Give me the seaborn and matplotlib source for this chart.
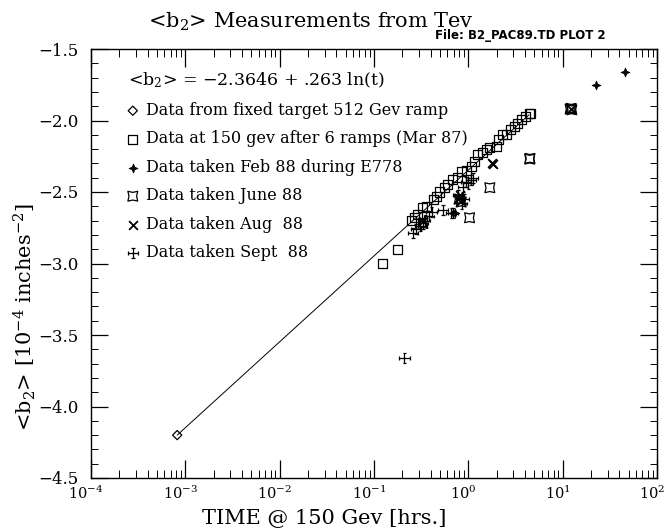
import matplotlib
matplotlib.use("Agg")
import matplotlib.pyplot as plt
import matplotlib.ticker as mtick
from matplotlib.path import Path
from matplotlib.transforms import Affine2D, ScaledTranslation
import numpy as np
import seaborn as sns

# ---- data ----
# fit line end points  <b2> = -2.3646 + .263 ln(t)
fit_t = [8.2e-4, 4.4]
fit_b = [-4.20, -1.96]

# fixed target 512 Gev ramp
fixed_t = [8.2e-4]
fixed_b = [-4.20]

# 150 gev after 6 ramps (Mar 87)
mar87_t = [0.124, 0.179, 0.249, 0.27, 0.29, 0.33, 0.36, 0.43, 0.46, 0.50, 0.56,
           0.60, 0.68, 0.76, 0.845, 0.95, 1.08, 1.17, 1.26, 1.43, 1.55, 1.66,
           1.99, 2.1, 2.3, 2.54, 2.8, 3.1, 3.36, 3.7, 4.0, 4.4, 4.6]
mar87_b = [-3.00, -2.90, -2.70, -2.68, -2.66, -2.61, -2.60, -2.55, -2.53, -2.50, -2.47,
           -2.45, -2.41, -2.40, -2.36, -2.35, -2.32, -2.29, -2.24, -2.225, -2.20, -2.19,
           -2.18, -2.13, -2.10, -2.10, -2.06, -2.04, -2.02, -1.99, -1.97, -1.95, -1.95]

# Feb 88 during E778
feb88_t = [46.1, 22.7, 0.69, 0.72]
feb88_b = [-1.66, -1.75, -2.65, -2.65]

# June 88
jun88_t = [12.0, 12.3, 12.5, 4.47, 4.5, 1.69, 1.03, 0.80, 0.84, 0.33]
jun88_b = [-1.92, -1.915, -1.925, -2.27, -2.265, -2.47, -2.68, -2.55, -2.57, -2.72]

# Aug 88
aug88_t = [1.78, 1.82, 0.80, 0.84, 0.78, 0.82, 0.33, 12.2]
aug88_b = [-2.30, -2.305, -2.54, -2.56, -2.55, -2.52, -2.70, -1.92]

# Sept 88
sep88_t = [0.21, 0.258, 0.28, 0.31, 0.33, 0.35, 0.38, 0.407, 0.54, 0.66, 0.69,
           0.78, 0.85, 0.88, 0.90, 0.95, 1.0, 1.07, 1.12]
sep88_b = [-3.66, -2.787, -2.76, -2.74, -2.72, -2.70, -2.67, -2.638, -2.626, -2.645, -2.649,
           -2.52, -2.58, -2.463, -2.55, -2.43, -2.44, -2.416, -2.40]

x_decades = [1e-4, 1e-3, 1e-2, 1e-1, 1e0, 1e1, 1e2]
y_ticks = [-4.5, -4.0, -3.5, -3.0, -2.5, -2.0, -1.5]

# ---- markers ----
def seg_path(segs):
    verts, codes = [], []
    for (a, b) in segs:
        verts += [a, b]
        codes += [Path.MOVETO, Path.LINETO]
    return Path(verts, codes)

sept_marker = seg_path([((0, -1), (0, 1)), ((-1, 0), (1, 0)),
                        ((-0.35, 1), (0.35, 1)), ((-0.35, -1), (0.35, -1)),
                        ((-1, -0.35), (-1, 0.35)), ((1, -0.35), (1, 0.35))])
june_marker = Path.unit_regular_star(4, 0.55).transformed(Affine2D().rotate_deg(45))
feb_marker = Path.unit_regular_star(4, 0.4)

sns.set_style("ticks", {"xtick.direction": "in", "ytick.direction": "in",
                        "xtick.top": True, "ytick.right": True,
                        "xtick.color": "k", "ytick.color": "k",
                        "axes.edgecolor": "k", "text.color": "k",
                        "axes.labelcolor": "k"})
plt.rcParams['font.family'] = ['DejaVu Serif']
plt.rcParams['mathtext.fontset'] = 'dejavuserif'
plt.rcParams['xtick.major.size'] = 13
plt.rcParams['ytick.major.size'] = 12
plt.rcParams['xtick.minor.size'] = 6
plt.rcParams['ytick.minor.size'] = 5
plt.rcParams['xtick.major.width'] = 0.9
plt.rcParams['ytick.major.width'] = 0.9
plt.rcParams['xtick.minor.width'] = 0.7
plt.rcParams['ytick.minor.width'] = 0.7
plt.rcParams['xtick.minor.visible'] = True
plt.rcParams['ytick.minor.visible'] = True

fig = plt.figure(figsize=(6.66, 5.31), dpi=100)
ax = fig.add_axes([91 / 666, 1 - 478 / 531, 566 / 666, 429 / 531])

sns.lineplot(x=fit_t, y=fit_b, ax=ax, color='k', lw=0.7, legend=False)

sns.scatterplot(x=fixed_t, y=fixed_b, ax=ax, marker='D', s=22, facecolor='none',
                edgecolor='k', linewidth=0.9, label='Data from fixed target 512 Gev ramp')
sns.scatterplot(x=mar87_t, y=mar87_b, ax=ax, marker='s', s=42, facecolor='none',
                edgecolor='k', linewidth=0.9, label='Data at 150 gev after 6 ramps (Mar 87)')
sns.scatterplot(x=feb88_t, y=feb88_b, ax=ax, marker=feb_marker, s=40, color='k',
                edgecolor='k', linewidth=0.6, label='Data taken Feb 88 during E778')
sns.scatterplot(x=jun88_t, y=jun88_b, ax=ax, marker=june_marker, s=50, facecolor='none',
                edgecolor='k', linewidth=0.9, label='Data taken June 88')
sns.scatterplot(x=aug88_t, y=aug88_b, ax=ax, marker='x', s=40, color='k',
                linewidth=1.3, label='Data taken Aug  88')
sns.scatterplot(x=sep88_t, y=sep88_b, ax=ax, marker=sept_marker, s=55, facecolor='none',
                edgecolor='k', linewidth=0.9, label='Data taken Sept  88')

ax.set_xscale('log')
ax.set_xlim(1e-4, 1e2)
ax.set_ylim(-4.5, -1.5)
ax.xaxis.set_major_locator(mtick.FixedLocator(x_decades))
ax.xaxis.set_major_formatter(mtick.LogFormatterSciNotation())
ax.xaxis.set_minor_locator(mtick.LogLocator(base=10, subs=np.arange(2, 10), numticks=20))
ax.xaxis.set_minor_formatter(mtick.NullFormatter())
ax.yaxis.set_major_locator(mtick.FixedLocator(y_ticks))
ax.yaxis.set_minor_locator(mtick.MultipleLocator(0.1))
ax.yaxis.set_major_formatter(mtick.FuncFormatter(lambda v, p: '\u2212%.1f' % abs(v)))
ax.tick_params(which='both', direction='in', top=True, right=True, bottom=True, left=True)
ax.tick_params(axis='y', which='major', pad=9, labelsize=12)
ax.tick_params(axis='x', which='major', pad=5, labelsize=10.5)
for sp in ax.spines.values():
    sp.set_linewidth(1.0)
    sp.set_color('k')
    sp.set_visible(True)

# decade labels sit a little left of their ticks in the reference
shift = ScaledTranslation(-5 / 100, 0, fig.dpi_scale_trans)
for lab in ax.get_xticklabels():
    lab.set_transform(lab.get_transform() + shift)

ax.set_xlabel('')
ax.set_ylabel('')
fig.text(324 / 666, 1 - 518 / 531, 'TIME @ 150 Gev [hrs.]', ha='center', va='center', fontsize=15)
fig.text(25 / 666, 1 - 317 / 531, '<b$_2$> [10$^{-4}$ inches$^{-2}$]', ha='center', va='center',
         rotation=90, fontsize=15)
fig.text(311 / 666, 1 - 22 / 531, '<b$_2$> Measurements from Tev', ha='center', va='center',
         fontsize=15)
fig.text(435 / 666, 1 - 35 / 531, 'File: B2_PAC89.TD PLOT 2', ha='left', va='center',
         fontsize=8.5, family='DejaVu Sans', fontweight='bold')

handles, labels = ax.get_legend_handles_labels()
leg = ax.legend(handles, labels, loc='upper left',
                bbox_to_anchor=((128 - 91) / 566, 1 - (71 - 49) / 429),
                frameon=False, borderaxespad=0, borderpad=0, fontsize=11.5,
                handlelength=0.6, handletextpad=0.5, labelspacing=0.72,
                title='<b$_2$> = \u22122.3646 + .263 ln(t)', title_fontsize=12.5,
                alignment='left')

fig.savefig('out.png', dpi=100)
